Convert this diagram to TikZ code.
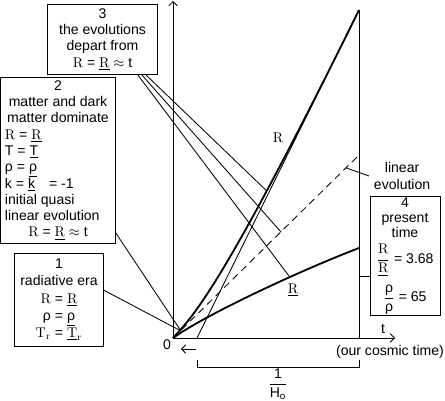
\documentclass[tikz,border=0pt]{standalone}
\usepackage{amsmath}
\usepackage{fontspec}
\setsansfont{Liberation Sans}
\usetikzlibrary{arrows.meta,calc}
\newcommand{\Rr}{\textrm{R}}
\newcommand{\Rb}{\underline{\textrm{R}}}
\newcommand{\cl}[1]{\multicolumn{1}{@{}c@{}}{#1}}

\begin{document}
\begin{tikzpicture}[x=0.025cm, y=-0.025cm,
  txt/.style={font=\sffamily\fontsize{10}{11.5}\selectfont},
  box/.style={draw, line width=0.7pt, txt, inner sep=0pt, align=center},
  ln/.style={line width=0.6pt},
  crv/.style={line width=1.3pt},
  axarr/.style={ln, -{Straight Barb[length=3pt,width=6pt]}},
]
\useasboundingbox (0,0) rectangle (445,400);
%--- axes and present time
\coordinate (O)    at (173,338);
\coordinate (ytop) at (173,1);
\coordinate (xend) at (395,338);
\coordinate (top)  at (359,10);
\coordinate (now)  at (359,338);
\coordinate (tH)   at (197,338);
\coordinate (linend) at (359,155);
\coordinate (Rbend)  at (359,248);
\coordinate (conv) at (181,331);
\draw[axarr] (O) -- (ytop);
\draw[axarr] (O) -- (xend);
\draw[ln] (now) -- (top);
%--- evolutions
\draw[crv] (O) .. controls (193,316) and (221,290) .. coordinate[pos=0.72] (pa) (top);
\draw[ln] (tH) -- (top);
\draw[ln, dash pattern=on 5pt off 3.5pt] (O) -- (linend);
\draw[crv] (O) .. controls (205,315) and (299,271) .. coordinate[pos=0.66] (pc) (Rbend);
\coordinate (pb) at ($(O)!0.58!(linend)$);
\coordinate (linpt) at ($(O)!0.93!(linend)$);
\node[font=\rmfamily] (Rlab)  at (278,138) {R};
\node[font=\rmfamily] (Rblab) at (293,290) {\underline{R}};
\node[txt, anchor=west, align=center] (linlab) at (369,176) {linear\\evolution};
\draw[ln] (linpt) -- (linlab.west);
%--- boxes
\node[box, minimum width=2.725cm, minimum height=1.725cm] (b3) at (102.5,39.5)
  {3\\the evolutions\\depart from\\\Rr{} = \Rb{} $\approx$ t};
\node[box, minimum width=2.85cm, minimum height=4.125cm] (b2) at (58,160.5)
  {\begin{tabular}{@{}p{2.65cm}@{}}
   \cl{2}\\ \cl{matter and dark}\\ \cl{matter dominate}\\
   \Rr{} = \Rb\\ T = \underline{T}\\ ρ = \underline{ρ}\\
   k = \underline{k}\quad = -1\\ initial quasi\\ linear evolution\\
   \cl{\Rr{} = \Rb{} $\approx$ t}
   \end{tabular}};
\node[box, font=\sffamily\fontsize{10}{12.2}\selectfont,
      minimum width=2.2cm, minimum height=2.3cm] (b1) at (59,300)
  {1\\radiative era\\\Rr{} = \Rb\\ρ = \underline{ρ}\\
   $\mathrm{T}_\mathrm{r}$ = $\underline{\mathrm{T}}_\mathrm{r}$};
\node[box, font=\sffamily\fontsize{10}{10.5}\selectfont,
      minimum width=1.75cm, minimum height=2.95cm] (b4) at (405,256)
  {4\\present\\time\\[4pt]
   $\dfrac{\Rr}{\Rb}$ = 3.68\\[5pt]
   $\dfrac{\text{ρ}}{\text{ρ}}$ = 65};
%--- leaders
\draw[ln] ($(b3.south east)+(-12,0)$) -- (pa);
\draw[ln] ($(b3.south east)+(-16,0)$) -- (pb);
\draw[ln] ($(b3.south east)+(-20,0)$) -- (pc);
\draw[ln] ($(b2.south east)+(0,-11)$) -- (conv);
\draw[ln] ($(b1.east)+(0,-10)$) -- (conv);
\coordinate (tick) at (359,276);
\draw[ln] (tick) -- (tick -| b4.west);
%--- axis labels
\node[txt] (zero) at (167,345) {0};
\node[txt] (tlab) at (383,329) {t};
\node[txt] (cosmic) at (390,352) {(our cosmic time)};
\coordinate (hs) at (196,349);
\draw[axarr] (hs) -- ($(hs -| zero.east)+(5,0)$);
\draw[ln] ($(tH)+(0,22)$) |- ($(now)+(0,29)$) -- ($(now)+(0,22)$);
\node[txt] (hubble) at (278,384) {$\dfrac{\text{1}}{\text{H}_{\text{o}}}$};
\end{tikzpicture}
\end{document}
